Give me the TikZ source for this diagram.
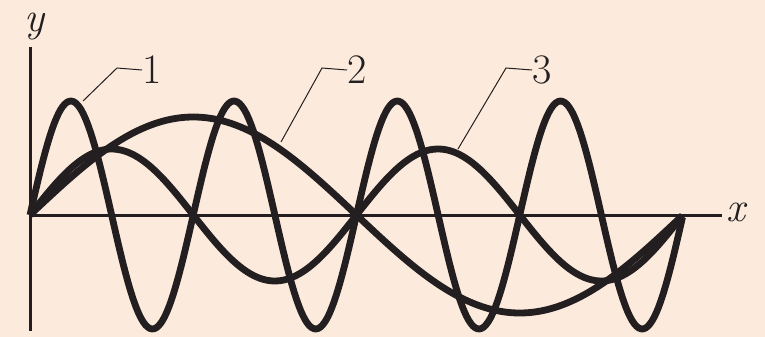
\documentclass[tikz,border=0pt]{standalone}
\usepackage{fix-cm}
\begin{document}
\definecolor{bgpeach}{HTML}{FCEBDD}
\definecolor{ink}{HTML}{231F20}
\begin{tikzpicture}[x=1pt,y=-1pt,
  wave/.style={ink,line width=6.8pt,line join=round},
  axisline/.style={ink,line width=3pt},
  leader/.style={ink,line width=1pt},
  lbl/.style={ink,font=\fontsize{42}{46}\selectfont,inner sep=0pt}]
\fill[bgpeach] (0,0) rectangle (765,337);
\useasboundingbox (0,0) rectangle (765,337);
% axes
\coordinate (O) at (30,215);
\coordinate (ytop) at (30,47);
\coordinate (ybot) at (30,331);
\coordinate (xend) at (722,215);
\draw[axisline] (ytop) -- (ybot);
\draw[axisline] (O) -- (xend);
\node[lbl,anchor=west] (xl) at (726,212) {\itshape x};
\node[lbl,anchor=base] (yl) at (34,32) {\itshape y};
% waves
\draw[wave] plot[domain=0:1,samples=300,smooth] ({30+653*\x},{215-114*sin(1440*\x)});
\draw[wave] plot[domain=0:1,samples=200,smooth] ({30+653*\x},{215-98*sin(360*\x)});
\draw[wave] plot[domain=0:1,samples=200,smooth] ({30+653*\x},{215-66*sin(720*\x)});
% labels
\node[lbl,anchor=west] (l1) at (142,70) {1};
\node[lbl,anchor=west] (l2) at (347,70) {2};
\node[lbl,anchor=west] (l3) at (532,70) {3};
\coordinate (p1) at (83,101);
\coordinate (p2) at (281,142);
\coordinate (p3) at (458,149);
\draw[leader] (p1) -- (117,68) -- (l1.west);
\draw[leader] (p2) -- (322,68) -- (l2.west);
\draw[leader] (p3) -- (506,68) -- (l3.west);
\end{tikzpicture}
\end{document}
